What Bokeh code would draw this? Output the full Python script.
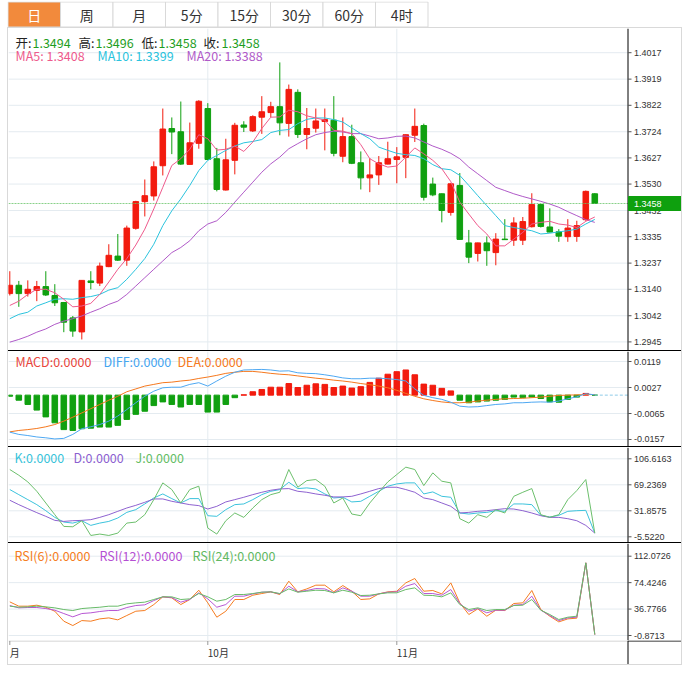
from bokeh.plotting import figure
from bokeh.models import Range1d, Div
from bokeh.layouts import column, row
from bokeh.embed import file_html
from bokeh.resources import INLINE
from bokeh.core.properties import value

# ---------------- data ----------------
tabs = ["日", "周", "月", "5分", "15分", "30分", "60分", "4时"]
month_ticks = [0, 22, 43]
month_labels = ["月", "10月", "11月"]

price_ticks = [1.2945, 1.3042, 1.3140, 1.3237, 1.3335, 1.3432, 1.3530, 1.3627, 1.3724, 1.3822, 1.3919, 1.4017]
macd_ticks = [-0.0157, -0.0065, 0.0027, 0.0119]
kdj_ticks = [-5.5220, 31.8575, 69.2369, 106.6163]
rsi_ticks = [-0.8713, 36.7766, 74.4246, 112.0726]

opens = [1.3124, 1.3155, 1.3124, 1.3136, 1.3150, 1.3117, 1.3091, 1.3034, 1.2982, 1.3171,
         1.3163, 1.3224, 1.3263, 1.3248, 1.3366, 1.3465, 1.3486, 1.3598, 1.3736, 1.3724,
         1.3603, 1.3681, 1.3810, 1.3624, 1.3508, 1.3618, 1.3749, 1.3727, 1.3778, 1.3795,
         1.3817, 1.3755, 1.3870, 1.3714, 1.3737, 1.3762, 1.3767, 1.3633, 1.3706, 1.3609,
         1.3553, 1.3564, 1.3604, 1.3621, 1.3629, 1.3711, 1.3747, 1.3530, 1.3494, 1.3425,
         1.3525, 1.3312, 1.3273, 1.3312, 1.3276, 1.3326, 1.3322, 1.3322, 1.3372, 1.3454,
         1.3371, 1.3353, 1.3335, 1.3336, 1.3398, 1.3494]
highs = [1.3207, 1.3171, 1.3173, 1.3171, 1.3207, 1.3159, 1.3093, 1.3041, 1.3173, 1.3207,
         1.3239, 1.3307, 1.3345, 1.3376, 1.3468, 1.3547, 1.3614, 1.3810, 1.3777, 1.3836,
         1.3758, 1.3841, 1.3830, 1.3664, 1.3698, 1.3757, 1.3763, 1.3785, 1.3856, 1.3835,
         1.3981, 1.3899, 1.3881, 1.3812, 1.3810, 1.3810, 1.3856, 1.3777, 1.3750, 1.3651,
         1.3626, 1.3634, 1.3687, 1.3667, 1.3714, 1.3810, 1.3754, 1.3554, 1.3495, 1.3532,
         1.3571, 1.3360, 1.3313, 1.3336, 1.3348, 1.3400, 1.3407, 1.3408, 1.3496, 1.3455,
         1.3440, 1.3363, 1.3400, 1.3394, 1.3506, 1.3496]
lows = [1.3117, 1.3075, 1.3113, 1.3096, 1.3115, 1.3078, 1.2981, 1.2964, 1.2954, 1.3140,
        1.3152, 1.3222, 1.3245, 1.3227, 1.3361, 1.3410, 1.3469, 1.3562, 1.3641, 1.3601,
        1.3602, 1.3661, 1.3619, 1.3503, 1.3506, 1.3566, 1.3723, 1.3723, 1.3716, 1.3778,
        1.3711, 1.3706, 1.3701, 1.3659, 1.3721, 1.3655, 1.3633, 1.3611, 1.3604, 1.3510,
        1.3500, 1.3527, 1.3603, 1.3533, 1.3552, 1.3686, 1.3469, 1.3485, 1.3388, 1.3413,
        1.3324, 1.3237, 1.3243, 1.3227, 1.3229, 1.3323, 1.3301, 1.3304, 1.3369, 1.3369,
        1.3351, 1.3316, 1.3316, 1.3316, 1.3394, 1.3458]
closes = [1.3155, 1.3124, 1.3140, 1.3150, 1.3119, 1.3090, 1.3018, 1.2985, 1.3173, 1.3165,
          1.3226, 1.3266, 1.3248, 1.3367, 1.3465, 1.3487, 1.3594, 1.3734, 1.3723, 1.3604,
          1.3683, 1.3837, 1.3621, 1.3510, 1.3620, 1.3748, 1.3741, 1.3780, 1.3798, 1.3817,
          1.3757, 1.3881, 1.3714, 1.3736, 1.3764, 1.3769, 1.3644, 1.3706, 1.3607, 1.3553,
          1.3564, 1.3609, 1.3624, 1.3631, 1.3713, 1.3744, 1.3481, 1.3490, 1.3432, 1.3531,
          1.3325, 1.3259, 1.3312, 1.3283, 1.3326, 1.3324, 1.3386, 1.3391, 1.3454, 1.3373,
          1.3352, 1.3337, 1.3367, 1.3376, 1.3503, 1.3458]

ma5 = [1.3080, 1.3096, 1.3121, 1.3140, 1.3140, 1.3127, 1.3103, 1.3075, 1.3078, 1.3088,
       1.3121, 1.3167, 1.3214, 1.3254, 1.3304, 1.3363, 1.3438, 1.3518, 1.3599, 1.3624,
       1.3659, 1.3713, 1.3698, 1.3656, 1.3659, 1.3671, 1.3651, 1.3686, 1.3736, 1.3778,
       1.3779, 1.3804, 1.3798, 1.3783, 1.3775, 1.3767, 1.3729, 1.3726, 1.3717, 1.3676,
       1.3624, 1.3605, 1.3593, 1.3597, 1.3630, 1.3664, 1.3642, 1.3618, 1.3587, 1.3539,
       1.3463, 1.3419, 1.3376, 1.3345, 1.3301, 1.3301, 1.3326, 1.3351, 1.3382, 1.3388,
       1.3392, 1.3382, 1.3378, 1.3369, 1.3392, 1.3408]
ma10 = [1.3031, 1.3047, 1.3055, 1.3078, 1.3090, 1.3103, 1.3105, 1.3103, 1.3109, 1.3113,
        1.3121, 1.3137, 1.3146, 1.3177, 1.3214, 1.3254, 1.3307, 1.3376, 1.3431, 1.3475,
        1.3525, 1.3580, 1.3618, 1.3636, 1.3655, 1.3671, 1.3683, 1.3688, 1.3695, 1.3721,
        1.3729, 1.3732, 1.3754, 1.3770, 1.3775, 1.3775, 1.3769, 1.3760, 1.3738, 1.3717,
        1.3698, 1.3667, 1.3655, 1.3644, 1.3639, 1.3636, 1.3624, 1.3602, 1.3587, 1.3583,
        1.3562, 1.3525, 1.3487, 1.3450, 1.3413, 1.3376, 1.3369, 1.3363, 1.3357, 1.3345,
        1.3348, 1.3353, 1.3357, 1.3363, 1.3382, 1.3399]
ma20 = [1.2944, 1.2954, 1.2966, 1.2981, 1.2993, 1.3010, 1.3022, 1.3031, 1.3041, 1.3055,
        1.3068, 1.3084, 1.3096, 1.3121, 1.3152, 1.3183, 1.3214, 1.3245, 1.3276, 1.3295,
        1.3320, 1.3357, 1.3382, 1.3394, 1.3425, 1.3463, 1.3500, 1.3537, 1.3574, 1.3605,
        1.3630, 1.3661, 1.3680, 1.3698, 1.3713, 1.3721, 1.3726, 1.3723, 1.3717, 1.3717,
        1.3708, 1.3698, 1.3701, 1.3707, 1.3708, 1.3701, 1.3686, 1.3671, 1.3659, 1.3644,
        1.3624, 1.3593, 1.3568, 1.3543, 1.3518, 1.3506, 1.3494, 1.3484, 1.3475, 1.3466,
        1.3456, 1.3444, 1.3428, 1.3413, 1.3398, 1.3388]

macd_hist = [-0.0004, -0.0018, -0.0033, -0.0053, -0.0077, -0.0098, -0.0122, -0.0125, -0.0119, -0.0117,
             -0.0113, -0.0113, -0.0107, -0.0086, -0.0068, -0.0057, -0.0037, -0.0024, -0.0033, -0.0042,
             -0.0033, -0.0033, -0.0060, -0.0060, -0.0033, -0.0009, 0.0001, 0.0012, 0.0020, 0.0028,
             0.0028, 0.0041, 0.0027, 0.0035, 0.0040, 0.0038, 0.0027, 0.0032, 0.0025, 0.0030,
             0.0045, 0.0060, 0.0074, 0.0083, 0.0089, 0.0072, 0.0039, 0.0035, 0.0024, 0.0015,
             -0.0018, -0.0027, -0.0024, -0.0021, -0.0018, -0.0015, -0.0007, -0.0009, -0.0007, -0.0012,
             -0.0024, -0.0025, -0.0015, -0.0007, 0.0006, 0.0000]
diff = [-0.0131, -0.0139, -0.0143, -0.0148, -0.0151, -0.0155, -0.0153, -0.0139, -0.0119, -0.0112,
        -0.0104, -0.0092, -0.0074, -0.0051, -0.0027, -0.0004, 0.0014, 0.0026, 0.0028, 0.0028,
        0.0038, 0.0044, 0.0032, 0.0050, 0.0067, 0.0081, 0.0089, 0.0090, 0.0091, 0.0089,
        0.0085, 0.0086, 0.0079, 0.0077, 0.0076, 0.0072, 0.0067, 0.0061, 0.0058, 0.0058,
        0.0060, 0.0060, 0.0058, 0.0055, 0.0050, 0.0022, -0.0001, -0.0009, -0.0015, -0.0025,
        -0.0039, -0.0042, -0.0041, -0.0037, -0.0033, -0.0031, -0.0027, -0.0027, -0.0025, -0.0024,
        -0.0025, -0.0021, -0.0013, -0.0006, 0.0005, 0.0001]
dea = [-0.0130, -0.0125, -0.0122, -0.0118, -0.0112, -0.0104, -0.0092, -0.0078, -0.0063, -0.0048,
       -0.0033, -0.0018, -0.0004, 0.0012, 0.0022, 0.0032, 0.0038, 0.0044, 0.0046, 0.0050,
       0.0053, 0.0059, 0.0064, 0.0070, 0.0077, 0.0081, 0.0084, 0.0084, 0.0081, 0.0077,
       0.0074, 0.0072, 0.0068, 0.0064, 0.0060, 0.0057, 0.0053, 0.0050, 0.0046, 0.0041,
       0.0037, 0.0032, 0.0026, 0.0017, 0.0006, -0.0004, -0.0013, -0.0019, -0.0024, -0.0027,
       -0.0027, -0.0025, -0.0021, -0.0018, -0.0015, -0.0013, -0.0012, -0.0011, -0.0009, -0.0007,
       -0.0004, -0.0001, 0.0000, 0.0001, 0.0002, 0.0002]

k_vals = [62.4, 55.1, 47.9, 40.7, 32.0, 22.4, 15.7, 14.2, 17.6, 10.9,
          14.2, 16.6, 21.5, 29.6, 33.5, 41.7, 50.3, 56.1, 49.4, 43.1,
          49.4, 49.4, 24.8, 23.9, 33.5, 40.7, 41.7, 47.9, 55.1, 59.9,
          62.4, 72.9, 63.8, 64.8, 63.3, 56.1, 50.3, 51.3, 44.6, 45.5,
          52.7, 59.9, 67.2, 70.5, 72.0, 72.0, 56.1, 59.0, 52.7, 51.3,
          28.7, 27.2, 28.7, 29.6, 32.0, 31.1, 41.7, 41.7, 40.7, 25.3,
          22.9, 25.3, 31.1, 32.0, 32.5, -0.2]
d_vals = [47.0, 40.7, 34.9, 29.2, 23.9, 18.1, 16.6, 17.6, 18.1, 19.1,
          22.4, 26.3, 31.1, 35.9, 39.7, 44.1, 48.9, 48.9, 45.5, 43.1,
          40.7, 39.3, 34.4, 38.3, 44.6, 47.9, 51.3, 55.1, 58.5, 61.4,
          63.3, 63.8, 59.9, 58.5, 56.1, 54.2, 51.8, 51.8, 52.7, 56.1,
          59.9, 63.8, 65.7, 65.7, 62.4, 58.5, 50.3, 47.9, 43.1, 38.3,
          28.7, 29.6, 31.1, 32.0, 33.5, 34.9, 34.4, 32.0, 28.7, 24.8,
          22.4, 22.4, 20.5, 17.6, 10.9, -0.2]
j_vals = [91.2, 83.0, 73.4, 59.9, 43.1, 26.3, 9.4, 8.9, 17.6, -3.6,
          -1.6, -3.6, -0.2, 14.2, 15.7, 26.3, 47.9, 72.0, 62.4, 43.1,
          62.4, 67.2, 7.0, -1.6, 17.6, 28.7, 22.4, 35.9, 47.9, 55.1,
          58.5, 91.2, 65.7, 75.3, 76.8, 67.2, 43.1, 50.3, 27.2, 24.8,
          43.1, 58.5, 73.4, 84.0, 94.6, 91.2, 68.1, 86.4, 74.4, 72.0,
          20.5, 14.2, 26.3, 22.4, 33.5, 28.7, 52.7, 58.5, 63.8, 26.3,
          22.4, 26.3, 47.9, 60.9, 76.8, -0.2]

rsi6 = [47.0, 40.9, 40.9, 42.3, 39.4, 33.7, 19.5, 13.3, 20.4, 19.5,
        22.8, 24.2, 21.4, 27.6, 33.7, 34.7, 43.2, 54.2, 52.7, 43.2,
        50.4, 63.6, 45.6, 25.2, 33.7, 50.4, 50.4, 56.5, 58.9, 61.3,
        57.5, 76.5, 61.3, 65.5, 70.8, 70.8, 61.3, 70.3, 62.2, 50.4,
        51.3, 58.4, 61.3, 62.2, 74.1, 80.3, 62.2, 63.2, 58.4, 74.1,
        45.6, 29.0, 37.1, 26.6, 35.2, 34.7, 44.7, 45.6, 63.2, 36.1,
        26.6, 18.5, 22.8, 23.8, 102.6, 0.5]
rsi12 = [41.8, 38.5, 39.0, 39.0, 37.5, 35.2, 30.4, 25.7, 30.4, 31.4,
         33.3, 34.7, 34.7, 39.0, 41.8, 42.8, 48.9, 54.2, 53.2, 46.6,
         50.4, 59.9, 51.3, 39.4, 43.2, 55.1, 55.1, 58.4, 60.8, 61.3,
         58.4, 69.3, 61.3, 63.2, 66.0, 65.5, 59.9, 67.0, 62.2, 55.1,
         55.1, 58.4, 60.8, 61.3, 69.3, 73.1, 58.9, 58.9, 56.5, 64.6,
         44.7, 33.7, 37.5, 31.4, 35.2, 35.2, 42.3, 43.2, 55.1, 35.2,
         27.6, 20.4, 24.2, 25.2, 102.6, 0.5]
rsi24 = [40.9, 39.4, 39.9, 40.9, 39.9, 38.5, 36.1, 34.7, 37.5, 38.5,
         39.4, 40.9, 40.9, 44.2, 45.6, 46.6, 50.4, 54.2, 54.2, 50.4,
         51.3, 58.9, 54.2, 48.0, 50.4, 57.5, 57.5, 58.9, 60.8, 61.3,
         58.9, 65.5, 60.8, 62.2, 63.6, 63.2, 59.9, 63.6, 60.8, 56.1,
         56.5, 58.4, 59.9, 59.9, 64.6, 67.0, 56.5, 56.1, 54.2, 59.9,
         43.2, 36.1, 38.5, 34.7, 36.1, 36.1, 41.8, 42.3, 50.4, 35.2,
         29.0, 21.9, 25.2, 26.6, 102.6, 0.5]

# ---------------- styling ----------------
RED = "#f21b0e"
GREEN = "#10a010"
FONT = "Noto Sans CJK SC"
AXF = "Liberation Sans"
GRID = "#e4ebf0"
BORDER = "#d9d9d9"
W = 673          # chart width (plot area + right axis column)
RB = 54          # right axis column width
STEP = 9.0       # px per candle
X0 = -1.3 / STEP
XR = Range1d(X0, X0 + W / STEP)          # frame spans the full width
XA = X0 + (W - RB + 0.5) / STEP          # x of the price-axis line

n = len(closes)
idx = list(range(n))


def panel(h, lo, hi, ticks):
    p = figure(width=W, height=h, x_range=XR, y_range=Range1d(lo, hi),
               output_backend="svg", toolbar_location=None,
               x_axis_location=None, y_axis_location=None,
               min_border_left=0, min_border_right=0,
               min_border_top=0, min_border_bottom=0, title=None)
    p.outline_line_color = None
    p.grid.visible = False
    p.background_fill_color = "white"
    p.border_fill_color = "white"
    m = len(ticks)
    if m:
        p.segment(x0=[X0] * m, x1=[XA] * m, y0=ticks, y1=ticks, line_color=GRID, line_width=1)
    g = month_ticks[1:]
    p.segment(x0=g, x1=g, y0=[lo] * len(g), y1=[hi] * len(g), line_color=GRID, line_width=1)
    return p


def price_axis(p, ticks):
    lo, hi = p.y_range.start, p.y_range.end
    p.segment(x0=[XA], x1=[XA], y0=[lo], y1=[hi], line_color="black", line_width=1)
    m = len(ticks)
    if m:
        p.segment(x0=[XA] * m, x1=[XA + 3.5 / STEP] * m, y0=ticks, y1=ticks,
                  line_color="#555555", line_width=1)
        p.text(x=[XA] * m, y=ticks, text=[f"{t:.4f}" for t in ticks], x_offset=6,
               text_color="#333333", text_font=value(AXF), text_font_size="9px",
               text_align="left", text_baseline="middle")


def header(p, items, dy, size="12.5px"):
    m = len(items)
    p.text(x=[X0] * m, y=[p.y_range.end] * m,
           text=[it[0] for it in items],
           x_offset=[it[1] - 8 for it in items], y_offset=[dy] * m,
           text_color=[it[2] for it in items],
           text_font=value(FONT), text_font_size=size,
           text_align="left", text_baseline="middle")


def hline(w, color):
    return Div(text="", width=w, height=1, margin=0,
               styles={"background-color": color})


def vline(h, color):
    return Div(text="", width=1, height=h, margin=0,
               styles={"background-color": color})


# ---------------- tab bar ----------------
TW = 52.5
tabfig = figure(width=W + 2, height=26, x_range=Range1d(0, W + 2), y_range=Range1d(0, 26),
                output_backend="svg", toolbar_location=None,
                x_axis_location=None, y_axis_location=None,
                min_border_left=0, min_border_right=0, min_border_top=0, min_border_bottom=0,
                title=None)
tabfig.grid.visible = False
tabfig.outline_line_color = None
tab_left = [0.5 + TW * i for i in range(len(tabs))]
tab_right = [l + TW for l in tab_left]
tab_fill = ["#f28a3c" if i == 0 else "white" for i in range(len(tabs))]
tab_text = ["white" if i == 0 else "#333333" for i in range(len(tabs))]
tabfig.quad(left=tab_left, right=tab_right, bottom=[0.5] * len(tabs), top=[25.5] * len(tabs),
            fill_color=tab_fill, line_color=BORDER)
tabfig.text(x=[(l + r) / 2 for l, r in zip(tab_left, tab_right)], y=[13] * len(tabs), text=tabs,
            text_color=tab_text, text_font=value(FONT), text_font_size="14px",
            text_align="center", text_baseline="middle")

# ---------------- main candle panel ----------------
M_LO, M_HI, M_H = 1.29131, 1.41067, 322
main = panel(M_H, M_LO, M_HI, price_ticks)
colors = [RED if c >= o else GREEN for o, c in zip(opens, closes)]
main.segment(x0=idx, x1=idx, y0=lows, y1=highs, line_color=colors, line_width=1)
main.vbar(x=idx, width=0.62, top=[max(o, c) for o, c in zip(opens, closes)],
          bottom=[min(o, c) for o, c in zip(opens, closes)],
          fill_color=colors, line_color=colors, line_width=1)
main.line(idx, ma20, line_color="#b05ac8", line_width=1)
main.line(idx, ma10, line_color="#2bc3dd", line_width=1)
main.line(idx, ma5, line_color="#ee5a8c", line_width=1)
last = closes[-1]
main.segment(x0=[X0], x1=[XA], y0=[last], y1=[last], line_color="#6cc66c",
             line_dash="2 1", line_width=1, line_alpha=0.8)
price_axis(main, price_ticks)
# current-price tag on the axis
PY = (M_HI - M_LO) / M_H
main.quad(left=[XA + 0.5 / STEP], right=[XA + 53 / STEP], bottom=[last - 7 * PY], top=[last + 7 * PY],
          fill_color="#0ea00e", line_color="#0ea00e")
main.text(x=[XA], y=[last], text=[f"{last:.4f}"], x_offset=6,
          text_color="white", text_font=value(AXF), text_font_size="9px",
          text_align="left", text_baseline="middle")
NUM = "#1e9e1e"
LAB = "#222222"
header(main, [("开:", 15, LAB), (f"{opens[-1]:.4f}", 32, NUM),
              ("高:", 78, LAB), (f"{highs[-1]:.4f}", 95, NUM),
              ("低:", 141, LAB), (f"{lows[-1]:.4f}", 158, NUM),
              ("收:", 203, LAB), (f"{closes[-1]:.4f}", 221, NUM)], 14)
header(main, [(f"MA5: {ma5[-1]:.4f}", 15, "#ee5a8c"),
              (f"MA10: {ma10[-1]:.4f}", 97, "#2bc3dd"),
              (f"MA20: {ma20[-1]:.4f}", 186, "#b05ac8")], 27)

# ---------------- MACD ----------------
macd = panel(95, -0.018177, 0.015439, macd_ticks)
hcol = [RED if v > 0 else GREEN for v in macd_hist]
macd.vbar(x=idx, width=0.62, top=[max(v, 0) for v in macd_hist],
          bottom=[min(v, 0) for v in macd_hist], fill_color=hcol, line_color=hcol)
macd.segment(x0=[n - 1], x1=[XA], y0=[0], y1=[0], line_color="#8ecbe8", line_dash="3 2")
macd.line(idx, dea, line_color="#f5781e", line_width=1)
macd.line(idx, diff, line_color="#4ea8f2", line_width=1)
price_axis(macd, macd_ticks)
header(macd, [("MACD:0.0000", 15, "#e8453c"), ("DIFF:0.0000", 103, "#45a5f0"),
              ("DEA:0.0000", 177, "#f57a22")], 10)

# ---------------- KDJ ----------------
kdj = panel(95, -13.72, 122.86, kdj_ticks)
kdj.line(idx, k_vals, line_color="#3cc3dc", line_width=1)
kdj.line(idx, d_vals, line_color="#8e62d0", line_width=1)
kdj.line(idx, j_vals, line_color="#6cbf6c", line_width=1)
price_axis(kdj, kdj_ticks)
header(kdj, [("K:0.0000", 14, "#39c3da"), ("D:0.0000", 73, "#8c5fd0"),
             ("J:0.0000", 135, "#64bd64")], 10)

# ---------------- RSI ----------------
rsi = panel(97, -7.99, 130.16, rsi_ticks)
rsi.line(idx, rsi6, line_color="#f57c20", line_width=1)
rsi.line(idx, rsi12, line_color="#b757d3", line_width=1)
rsi.line(idx, rsi24, line_color="#68bb68", line_width=1)
price_axis(rsi, rsi_ticks)
header(rsi, [("RSI(6):0.0000", 14, "#f57d22"), ("RSI(12):0.0000", 99, "#b54fd3"),
             ("RSI(24):0.0000", 192, "#62b862")], 12)

# ---------------- x-axis strip ----------------
strip = figure(width=W, height=24, x_range=XR, y_range=Range1d(0, 24),
               output_backend="svg", toolbar_location=None,
               x_axis_location=None, y_axis_location=None,
               min_border_left=0, min_border_right=0, min_border_top=0, min_border_bottom=0,
               title=None)
strip.grid.visible = False
strip.outline_line_color = None
strip.segment(x0=[X0], x1=[XA], y0=[23.5], y1=[23.5], line_color="#c8c8c8")
strip.segment(x0=[XA], x1=[XR.end], y0=[23.5], y1=[23.5], line_color="black")
strip.segment(x0=[XA], x1=[XA], y0=[0], y1=[24], line_color="black")
strip.segment(x0=month_ticks, x1=month_ticks, y0=[23.5] * len(month_ticks),
              y1=[19.5] * len(month_ticks), line_color="#999999")
strip.text(x=month_ticks, y=[12] * len(month_ticks), text=month_labels,
           text_color="#333333", text_font=value(FONT), text_font_size="10px",
           text_align="left", text_baseline="middle")

# ---------------- layout ----------------
body = column(hline(W, BORDER), main, hline(W, "black"), macd, hline(W, "black"),
              kdj, hline(W, "black"), rsi, strip, hline(W, BORDER), spacing=0, margin=0)
H = 1 + 322 + 1 + 95 + 1 + 95 + 1 + 97 + 24 + 1
chart = row(vline(H, BORDER), body, vline(H, BORDER), spacing=0, margin=0)
root = column(tabfig, chart, spacing=0, margin=(1, 0, 0, 7))

open("out.html", "w").write(file_html(root, INLINE))
